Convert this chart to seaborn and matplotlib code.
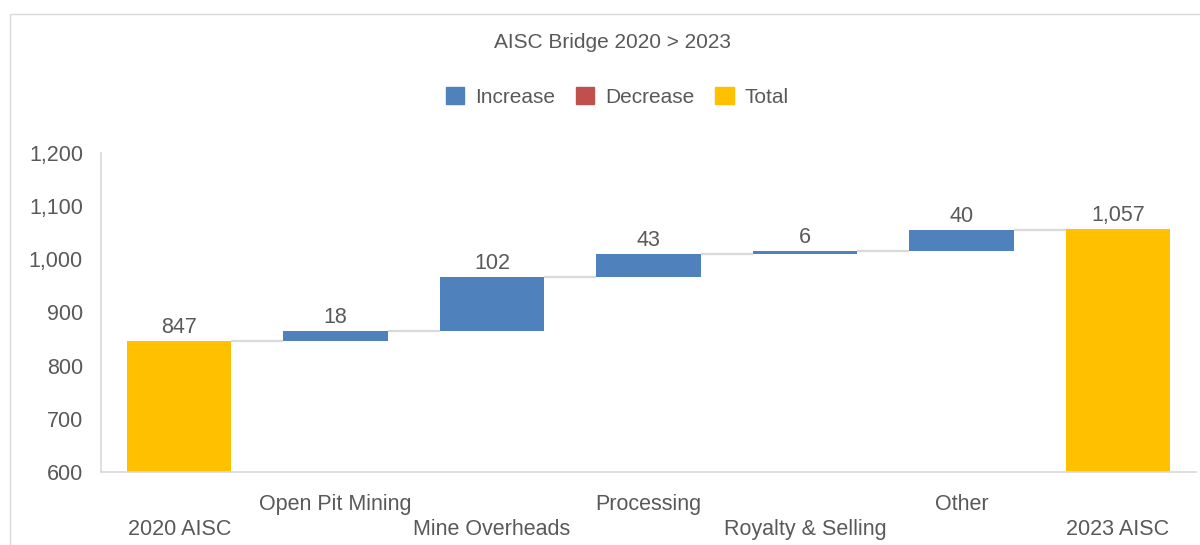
import matplotlib
matplotlib.use("Agg")
import matplotlib.pyplot as plt
import matplotlib.patches as mpatches
import seaborn as sns
import pandas as pd
import numpy as np

categories = ["2020 AISC", "Open Pit Mining", "Mine Overheads", "Processing",
              "Royalty & Selling", "Other", "2023 AISC"]
values = [847, 18, 102, 43, 6, 40, 1057]
kinds = ["Total", "Increase", "Increase", "Increase", "Increase", "Increase", "Total"]
value_labels = ["847", "18", "102", "43", "6", "40", "1,057"]
y_ticks = [600, 700, 800, 900, 1000, 1100, 1200]

colors = {"Increase": "#4F81BD", "Decrease": "#C0504D", "Total": "#FFC000"}
text_color = "#595959"

# compute bottoms for waterfall
bottoms = []
running = 0
for v, k in zip(values, kinds):
    if k == "Total":
        bottoms.append(0)
        running = v
    else:
        bottoms.append(running)
        running += v
tops = [b + v for b, v in zip(bottoms, values)]

df = pd.DataFrame({"category": categories, "value": values, "bottom": bottoms, "kind": kinds})

sns.set_theme(style="white")
plt.rcParams["font.family"] = ["Liberation Sans", "DejaVu Sans"]

fig = plt.figure(figsize=(12, 5.45), dpi=100)
ax = fig.add_axes([101 / 1200, 1 - 472 / 545, (1196 - 101) / 1200, (472 - 153) / 545])

sns.barplot(data=df, x="category", y="value", bottom=df["bottom"].to_numpy(),
            color=colors["Increase"], width=0.667, errorbar=None, ax=ax,
            linewidth=0, saturation=1)
for patch, k in zip(ax.patches, kinds):
    patch.set_facecolor(colors[k])
    patch.set_edgecolor("none")

# connectors
hw = 0.667 / 2
for i in range(len(categories) - 1):
    level = tops[i]
    ax.plot([i + hw, i + 1 - hw], [level, level], color="#D9D9D9", lw=1.6, zorder=1,
            solid_capstyle="butt")

# data labels
for i, (t, lab) in enumerate(zip(tops, value_labels)):
    ax.annotate(lab, (i, t), xytext=(0, 2), textcoords="offset points",
                ha="center", va="bottom", fontsize=15.5, color=text_color)

ax.set_ylim(600, 1200)
ax.set_xlim(-0.5, len(categories) - 0.5)
ax.set_yticks(y_ticks)
ax.set_yticklabels([f"{t:,}" for t in y_ticks])
ax.set_xticks(range(len(categories)))
ax.set_xticklabels([("\n" + c) if i % 2 == 0 else c for i, c in enumerate(categories)],
                   linespacing=1.25)
ax.tick_params(axis="y", length=0, pad=13, labelsize=15.5, labelcolor=text_color)
ax.tick_params(axis="x", length=0, pad=16, labelsize=15.5, labelcolor=text_color)
ax.set_xlabel("")
ax.set_ylabel("")

for s in ["top", "right"]:
    ax.spines[s].set_visible(False)
for s in ["left", "bottom"]:
    ax.spines[s].set_color("#D9D9D9")
    ax.spines[s].set_linewidth(1.2)

# title and legend
fig.text(612 / 1200, 1 - 42 / 545, "AISC Bridge 2020 > 2023", ha="center", va="center",
         fontsize=15, color=text_color)
handles = [mpatches.Patch(color=colors[k], label=k) for k in ["Increase", "Decrease", "Total"]]
fig.legend(handles=handles, loc="center", bbox_to_anchor=(617 / 1200, 1 - 97 / 545),
           ncol=3, frameon=False, fontsize=15, labelcolor=text_color,
           handlelength=0.9, handleheight=0.9, handletextpad=0.5, columnspacing=1.0)

# outer chart frame
frame = mpatches.Rectangle((10 / 1200, -0.1), 1.2, 1 - 14 / 545 + 0.1, transform=fig.transFigure,
                           fill=False, edgecolor="#D9D9D9", lw=1.0)
fig.patches.append(frame)

fig.savefig("out.png", dpi=100, facecolor="white")
